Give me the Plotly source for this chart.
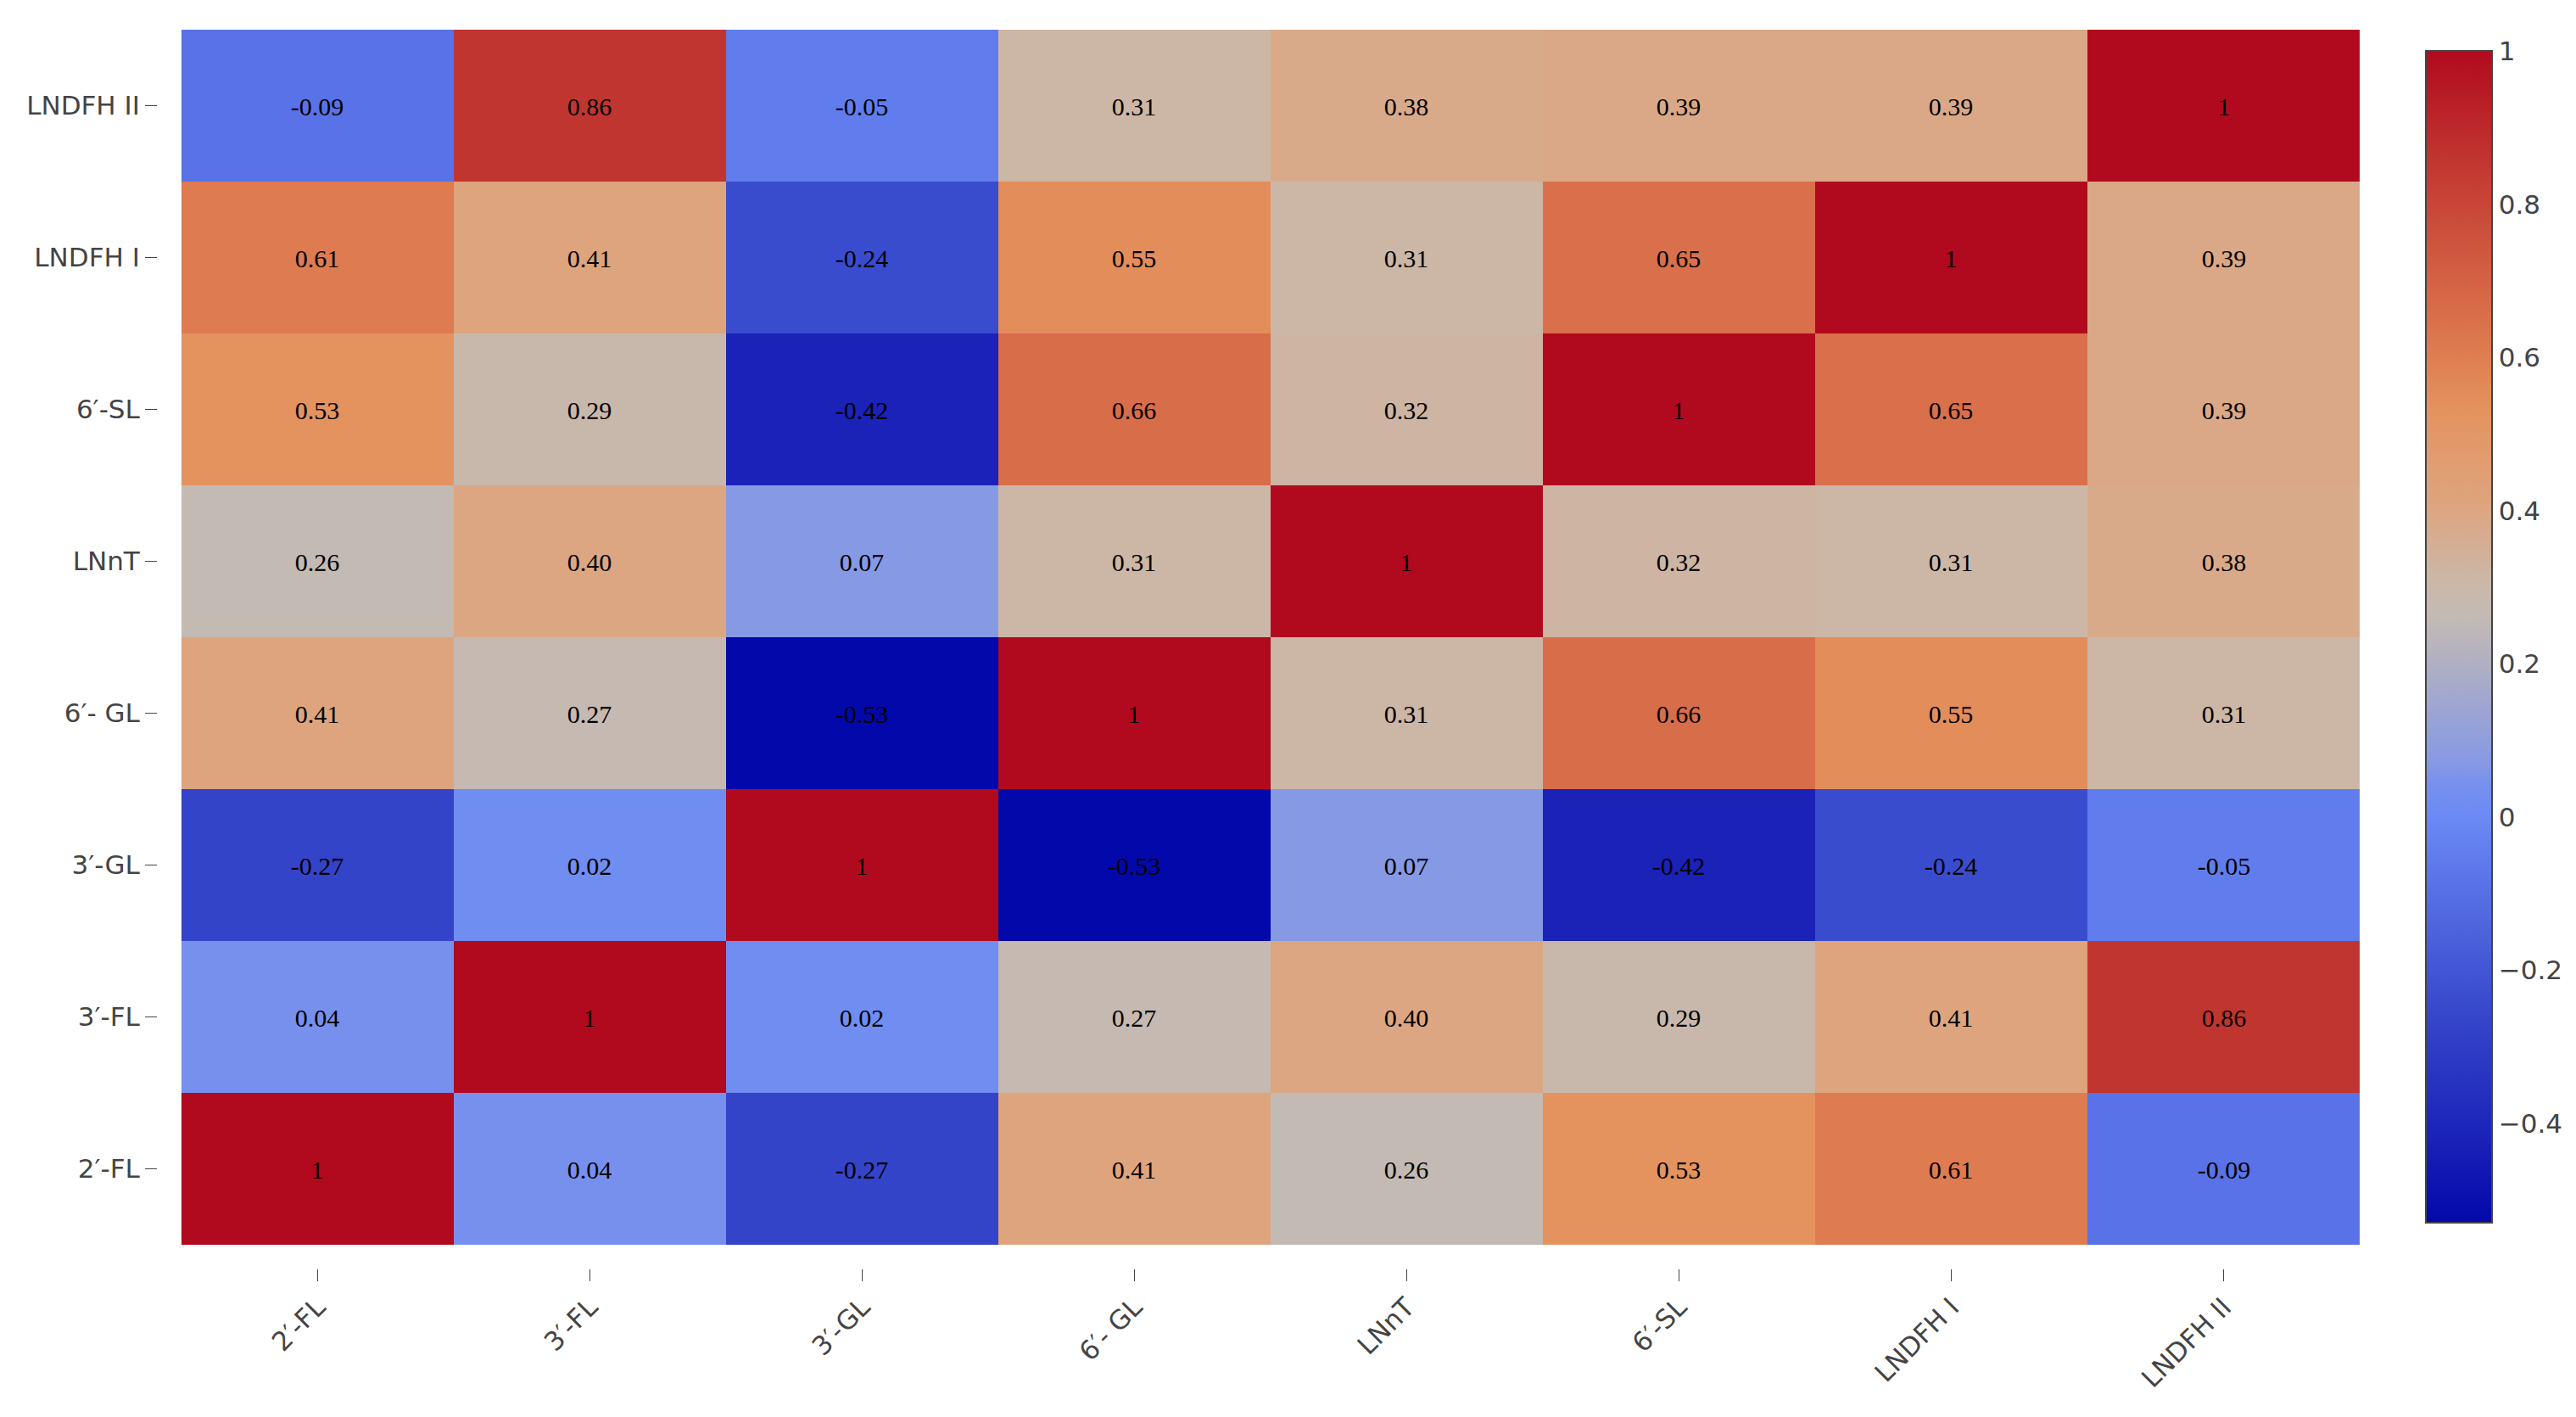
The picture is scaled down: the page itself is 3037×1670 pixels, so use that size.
import plotly.graph_objects as go

labels = ["2′-FL", "3′-FL", "3′-GL", "6′- GL", "LNnT", "6′-SL", "LNDFH I", "LNDFH II"]

# correlation rows, in order of labels (bottom row first)
row_2FL    = [1, 0.04, -0.27, 0.41, 0.26, 0.53, 0.61, -0.09]
row_3FL    = [0.04, 1, 0.02, 0.27, 0.40, 0.29, 0.41, 0.86]
row_3GL    = [-0.27, 0.02, 1, -0.53, 0.07, -0.42, -0.24, -0.05]
row_6GL    = [0.41, 0.27, -0.53, 1, 0.31, 0.66, 0.55, 0.31]
row_LNnT   = [0.26, 0.40, 0.07, 0.31, 1, 0.32, 0.31, 0.38]
row_6SL    = [0.53, 0.29, -0.42, 0.66, 0.32, 1, 0.65, 0.39]
row_LNDFH1 = [0.61, 0.41, -0.24, 0.55, 0.31, 0.65, 1, 0.39]
row_LNDFH2 = [-0.09, 0.86, -0.05, 0.31, 0.38, 0.39, 0.39, 1]

z = [row_2FL, row_3FL, row_3GL, row_6GL, row_LNnT, row_6SL, row_LNDFH1, row_LNDFH2]


def fmt(v):
    return "1" if v == 1 else f"{v:.2f}"


text = [[fmt(v) for v in row] for row in z]

colorscale = [
    [0.000, "rgb(3,8,170)"],
    [0.072, "rgb(26,34,184)"],
    [0.170, "rgb(52,68,201)"],
    [0.288, "rgb(89,114,231)"],
    [0.346, "rgb(106,138,244)"],
    [0.373, "rgb(119,144,238)"],
    [0.392, "rgb(134,153,228)"],
    [0.516, "rgb(195,186,180)"],
    [0.549, "rgb(204,183,167)"],
    [0.614, "rgb(222,164,126)"],
    [0.693, "rgb(228,147,95)"],
    [0.745, "rgb(222,123,80)"],
    [0.908, "rgb(193,53,48)"],
    [1.000, "rgb(177,10,30)"],
]

tick_font = dict(family="DejaVu Sans, Verdana, sans-serif", size=31, color="#444")

fig = go.Figure(
    go.Heatmap(
        z=z,
        x=labels,
        y=labels,
        text=text,
        texttemplate="%{text}",
        textfont=dict(family="Liberation Serif, Times New Roman, serif", size=30, color="black"),
        colorscale=colorscale,
        zmin=min(min(r) for r in z),
        zmax=max(max(r) for r in z),
        colorbar=dict(
            thickness=78,
            lenmode="pixels",
            len=1381,
            x=1.0301,
            xanchor="left",
            xpad=0,
            y=0.5096,
            yanchor="middle",
            ypad=0,
            outlinewidth=2,
            outlinecolor="#444",
            tickfont=tick_font,
            ticks="",
        ),
    )
)

fig.update_layout(
    width=3021,
    height=1654,
    margin=dict(l=178, r=247, t=27, b=167),
    paper_bgcolor="white",
    plot_bgcolor="white",
    font=tick_font,
)
fig.update_xaxes(
    type="category",
    range=[-0.587, 7.5],
    tickangle=-45,
    ticks="outside",
    ticklen=14,
    tickcolor="#444",
    tickfont=tick_font,
    showgrid=False,
    zeroline=False,
    showline=False,
)
fig.update_yaxes(
    type="category",
    range=[-0.656, 7.5],
    ticks="outside",
    ticklen=14,
    tickcolor="#444",
    tickfont=tick_font,
    showgrid=False,
    zeroline=False,
    showline=False,
)

fig.write_html("out.html")
